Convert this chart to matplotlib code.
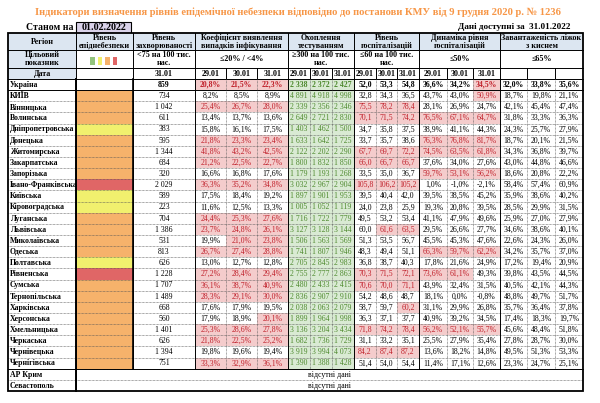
import matplotlib.pyplot as plt
from matplotlib.patches import Rectangle

plt.rcParams['font.family'] = ['Liberation Serif', 'DejaVu Serif']

regions = ['Україна', 'КИЇВ', 'Вінницька', 'Волинська', 'Дніпропетровська', 'Донецька',
           'Житомирська', 'Закарпатська', 'Запорізька', 'Івано-Франківська', 'Київська',
           'Кіровоградська', 'Луганська', 'Львівська', 'Миколаївська', 'Одеська', 'Полтавська',
           'Рівненська', 'Сумська', 'Тернопільська', 'Харківська', 'Херсонська', 'Хмельницька',
           'Черкаська', 'Чернівецька', 'Чернігівська']
missing_regions = ['АР Крим', 'Севастополь']
levels = [None, 'orange', 'orange', 'orange', 'yellow', 'orange', 'orange', 'orange', 'orange',
          'red', 'yellow', 'yellow', 'orange', 'orange', 'orange', 'orange', 'yellow', 'red',
          'orange', 'orange', 'orange', 'orange', 'orange', 'orange', 'orange', 'orange']
incidence = [859, 734, 1042, 611, 383, 595, 1344, 684, 320, 2029, 589, 223, 704, 1386, 531,
             813, 626, 1228, 1707, 1489, 668, 560, 1401, 626, 1394, 751]
coef = [(20.8, 21.5, 22.3), (8.2, 8.5, 8.9), (25.4, 26.7, 28.0), (13.4, 13.7, 13.6),
        (15.8, 16.1, 17.5), (21.8, 23.3, 23.4), (41.8, 43.2, 42.5), (21.2, 22.5, 22.7),
        (16.6, 16.8, 17.6), (36.3, 35.2, 34.8), (17.5, 18.4, 19.2), (11.6, 12.5, 13.3),
        (24.4, 25.3, 27.6), (23.7, 24.8, 26.1), (19.9, 21.0, 23.8), (26.7, 27.4, 28.8),
        (13.0, 12.7, 12.8), (27.2, 28.4, 29.4), (36.1, 38.7, 40.9), (28.3, 29.1, 30.0),
        (17.6, 17.9, 19.5), (17.9, 18.9, 20.1), (25.3, 28.6, 27.8), (21.8, 22.5, 25.2),
        (19.8, 19.6, 19.4), (33.3, 32.9, 36.1)]
testing = [(2338, 2372, 2427), (4891, 4918, 4998), (2339, 2356, 2346), (2649, 2721, 2830),
           (1403, 1462, 1500), (1633, 1642, 1725), (2122, 2202, 2290), (1800, 1832, 1850),
           (1179, 1193, 1268), (3032, 2967, 2904), (1897, 1901, 1953), (1005, 1052, 1119),
           (1716, 1722, 1779), (3127, 3128, 3144), (1506, 1563, 1569), (1741, 1807, 1946),
           (2705, 2845, 2983), (2755, 2777, 2863), (2480, 2433, 2415), (2836, 2907, 2910),
           (2038, 2063, 2079), (1899, 1964, 1998), (3136, 3204, 3434), (1682, 1736, 1729),
           (3919, 3994, 4073), (1390, 1388, 1428)]
hosp = [(52.0, 53.3, 54.8), (32.8, 34.3, 36.5), (75.5, 78.2, 78.4), (70.1, 71.5, 74.2),
        (34.7, 35.8, 37.5), (33.7, 35.7, 38.6), (67.7, 69.7, 72.2), (66.0, 66.7, 66.7),
        (33.5, 35.0, 36.7), (105.8, 106.2, 105.2), (39.5, 40.4, 42.0), (24.0, 23.8, 25.9),
        (49.5, 53.2, 53.4), (60.0, 61.6, 63.5), (51.3, 53.5, 56.7), (48.3, 49.4, 51.1),
        (36.8, 38.7, 40.3), (70.3, 71.5, 72.1), (70.6, 70.0, 71.1), (54.2, 48.6, 48.7),
        (58.7, 59.7, 60.2), (36.3, 37.1, 37.7), (71.8, 74.2, 78.4), (31.1, 33.2, 35.1),
        (84.2, 87.4, 87.2), (51.4, 54.0, 54.4)]
hosp_dyn = [(36.6, 34.2, 34.5), (43.7, 43.0, 50.9), (28.1, 26.9, 24.7), (76.5, 67.1, 64.7),
            (38.9, 41.1, 44.3), (76.3, 76.8, 81.7), (74.5, 63.5, 61.8), (37.6, 34.0, 27.6),
            (59.7, 53.1, 56.2), (1.0, -1.0, -2.1), (39.5, 38.5, 45.2), (19.3, 20.8, 39.5),
            (41.1, 47.9, 49.6), (29.5, 26.6, 27.7), (45.5, 45.3, 47.6), (66.3, 59.7, 62.2),
            (17.8, 21.6, 24.9), (73.6, 61.1, 49.3), (43.9, 32.4, 31.5), (18.1, 0.0, -0.8),
            (31.1, 29.9, 26.8), (40.9, 39.2, 34.5), (56.2, 52.1, 55.7), (25.5, 27.9, 35.4),
            (13.6, 18.2, 14.8), (11.4, 17.1, 12.6)]
beds = [(32.0, 33.8, 35.6), (18.7, 19.8, 21.1), (42.1, 45.4, 47.4), (31.8, 33.3, 36.3),
        (24.3, 25.7, 27.9), (18.7, 20.1, 21.5), (34.3, 36.8, 39.7), (43.0, 44.8, 46.6),
        (18.6, 20.8, 22.2), (58.4, 57.4, 60.9), (35.9, 38.6, 40.2), (28.5, 29.9, 31.5),
        (25.9, 27.0, 27.9), (34.6, 38.6, 40.1), (22.6, 24.3, 26.0), (34.2, 35.7, 37.0),
        (17.2, 19.4, 20.9), (39.8, 43.5, 44.5), (40.5, 42.1, 44.3), (48.8, 49.7, 51.7),
        (35.7, 36.4, 37.8), (17.4, 18.3, 19.7), (45.6, 48.4, 51.8), (27.8, 28.7, 30.0),
        (49.5, 51.3, 53.3), (23.3, 24.7, 25.1)]
dates = ['29.01', '30.01', '31.01']

# --- layout (pixel coords) ---
W, H = 600, 403
xs = [8, 76, 133, 195, 226, 257, 288, 310, 332, 354, 376, 397, 419, 447, 473, 500, 527, 555, 583]
hdr_y = [33, 50, 68, 79]
row_h = 11.14
FS = 5.6
HFS = 5.8

BLUE = '#dce6f1'
LEVEL_COLORS = {'orange': '#f6b26b', 'yellow': '#f1f06e', 'red': '#e06666'}
PINK, DARKRED = '#f4cccc', '#c0202a'
LGREEN, DGREEN = '#d9ead3', '#4e8a2e'
ORANGE_TITLE = '#f79646'


def fmt_int(v):
    return f'{v:,}'.replace(',', ' ')


def fmt_dec(v):
    return f'{v:.1f}'.replace('.', ',')


def fmt_pct(v):
    return fmt_dec(v) + '%'


fig = plt.figure(figsize=(W / 100, H / 100), dpi=100)
ax = fig.add_axes([0, 0, 1, 1])
ax.set_xlim(0, W)
ax.set_ylim(H, 0)
ax.axis('off')


def cell(x0, x1, y0, y1, text='', fc=None, color='black', bold=False, ha='center', fs=FS):
    if fc:
        ax.add_patch(Rectangle((x0, y0), x1 - x0, y1 - y0, facecolor=fc, edgecolor='none', zorder=1))
    if text:
        tx = (x0 + x1) / 2 if ha == 'center' else x0 + 2
        ax.text(tx, (y0 + y1) / 2 + 0.3, text, ha=ha, va='center', fontsize=fs, color=color,
                fontweight='bold' if bold else 'normal', zorder=3, linespacing=1.05)


# title block
ax.text(298, 12, 'Індикатори визначення рівнів епідемічної небезпеки відповідно до постанови КМУ від 9 грудня 2020 р. № 1236',
        ha='center', va='center', fontsize=7.6, fontweight='bold', color=ORANGE_TITLE)
ax.text(74, 27, 'Станом на', ha='right', va='center', fontsize=7, fontweight='bold')
ax.add_patch(Rectangle((76, 21.5), 55, 11, facecolor='#d9d2e9', edgecolor='black', lw=0.8))
ax.text(103.5, 27.2, '01.02.2022', ha='center', va='center', fontsize=7.2, fontweight='bold')
ax.text(570, 27, 'Дані доступні за  31.01.2022', ha='right', va='center', fontsize=6.6, fontweight='bold')

# header row 1
groups = [(0, 1, 'Регіон'), (1, 2, 'Рівень\nепіднебезпеки'), (2, 3, 'Рівень\nзахворюваності'),
          (3, 6, 'Коефіцієнт виявлення\nвипадків інфікування'), (6, 9, 'Охоплення\nтестуванням'),
          (9, 12, 'Рівень\nгоспіталізацій'), (12, 15, 'Динаміка рівня\nгоспіталізацій'),
          (15, 18, 'Завантаженість ліжок\nз киснем')]
targets = ['', '<75 на 100 тис.\nнас.', '≤20% / <4%', '≥300 на 100 тис.\nнас.',
           '≤60 на 100 тис.\nнас.', '≤50%', '≤65%']
for (i0, i1, t) in groups:
    cell(xs[i0], xs[i1], hdr_y[0], hdr_y[1], t, fc=BLUE, bold=True, fs=HFS)
cell(xs[0], xs[1], hdr_y[1], hdr_y[2], 'Цільовий\nпоказник', fc=BLUE, bold=True, fs=HFS)
for (i0, i1, _), t in zip(groups[1:], targets):
    cell(xs[i0], xs[i1], hdr_y[1], hdr_y[2], t, bold=True, fs=HFS)
for k, c in enumerate(['#93c47d', '#f1f06e', '#f6b26b', '#e06666']):
    ax.add_patch(Rectangle((90 + k * 7.5, 57), 4.5, 8, facecolor=c, edgecolor='none', zorder=2))
cell(xs[0], xs[1], hdr_y[2], hdr_y[3], 'Дата', fc=BLUE, bold=True, fs=HFS)
cell(xs[2], xs[3], hdr_y[2], hdr_y[3], '31.01', bold=True, fs=HFS)
for g in range(4):
    for j, d in enumerate(dates):
        c0 = 3 + g * 3 + j
        cell(xs[c0], xs[c0 + 1], hdr_y[2], hdr_y[3], d, bold=True, fs=HFS)

# data rows
for r, name in enumerate(regions):
    y0 = hdr_y[3] + r * row_h
    y1 = y0 + row_h
    b = r == 0
    cell(xs[0], xs[1], y0, y1, name, bold=True, ha='left')
    cell(xs[1], xs[2], y0, y1, fc=LEVEL_COLORS.get(levels[r]))
    cell(xs[2], xs[3], y0, y1, fmt_int(incidence[r]), bold=b)
    for j in range(3):
        red = coef[r][j] > 20
        cell(xs[3 + j], xs[4 + j], y0, y1, fmt_pct(coef[r][j]), fc=PINK if red else None,
             color=DARKRED if red else 'black', bold=b)
        cell(xs[6 + j], xs[7 + j], y0, y1, fmt_int(testing[r][j]), fc=LGREEN, color=DGREEN, bold=b)
        red = hosp[r][j] > 60
        cell(xs[9 + j], xs[10 + j], y0, y1, fmt_dec(hosp[r][j]), fc=PINK if red else None,
             color=DARKRED if red else 'black', bold=b)
        red = hosp_dyn[r][j] > 50 or (r == 0 and j == 2)
        cell(xs[12 + j], xs[13 + j], y0, y1, fmt_pct(hosp_dyn[r][j]), fc=PINK if red else None,
             color=DARKRED if red else 'black', bold=b)
        cell(xs[15 + j], xs[16 + j], y0, y1, fmt_pct(beds[r][j]), bold=b)

n_data = len(regions)
for k, name in enumerate(missing_regions):
    y0 = hdr_y[3] + (n_data + k) * row_h
    cell(xs[0], xs[1], y0, y0 + row_h, name, bold=True, ha='left')
    cell(xs[1], xs[-1], y0, y0 + row_h, 'відсутні дані')

y_end = hdr_y[3] + (n_data + len(missing_regions)) * row_h
y_data_end = hdr_y[3] + n_data * row_h

# grid lines
solid = dict(color='black', lw=0.7, zorder=4)
dotted = dict(color='#555555', lw=0.5, ls=(0, (1, 1)), zorder=4)
for y in hdr_y[1:]:
    ax.plot([xs[0], xs[-1]], [y, y], **solid)
for r in range(1, n_data + len(missing_regions)):
    y = hdr_y[3] + r * row_h
    if r == 1:
        ax.plot([xs[0], xs[-1]], [y, y], **solid)
    else:
        ax.plot([xs[0], xs[-1]], [y, y], **dotted)
ax.plot([xs[0], xs[-1]], [y_data_end, y_data_end], **solid)

group_edges = [1, 2, 3, 6, 9, 12, 15]
for i in range(1, len(xs) - 1):
    x = xs[i]
    if i in group_edges:
        y_bot = y_end if i == 1 else y_data_end
        ax.plot([x, x], [hdr_y[0], y_bot], **solid)
    else:
        ax.plot([x, x], [hdr_y[2], hdr_y[3]], **solid)
        ax.plot([x, x], [hdr_y[3], y_data_end], **dotted)
ax.plot([xs[1], xs[1]], [hdr_y[3], y_end], color='black', lw=1.4, zorder=5)
ax.plot([xs[2], xs[2]], [hdr_y[3], y_data_end], color='black', lw=1.2, zorder=5)
ax.add_patch(Rectangle((xs[0], hdr_y[0]), xs[-1] - xs[0], y_end - hdr_y[0], fill=False,
                       edgecolor='black', lw=1.3, zorder=6))

fig.savefig('out.png', dpi=100)
